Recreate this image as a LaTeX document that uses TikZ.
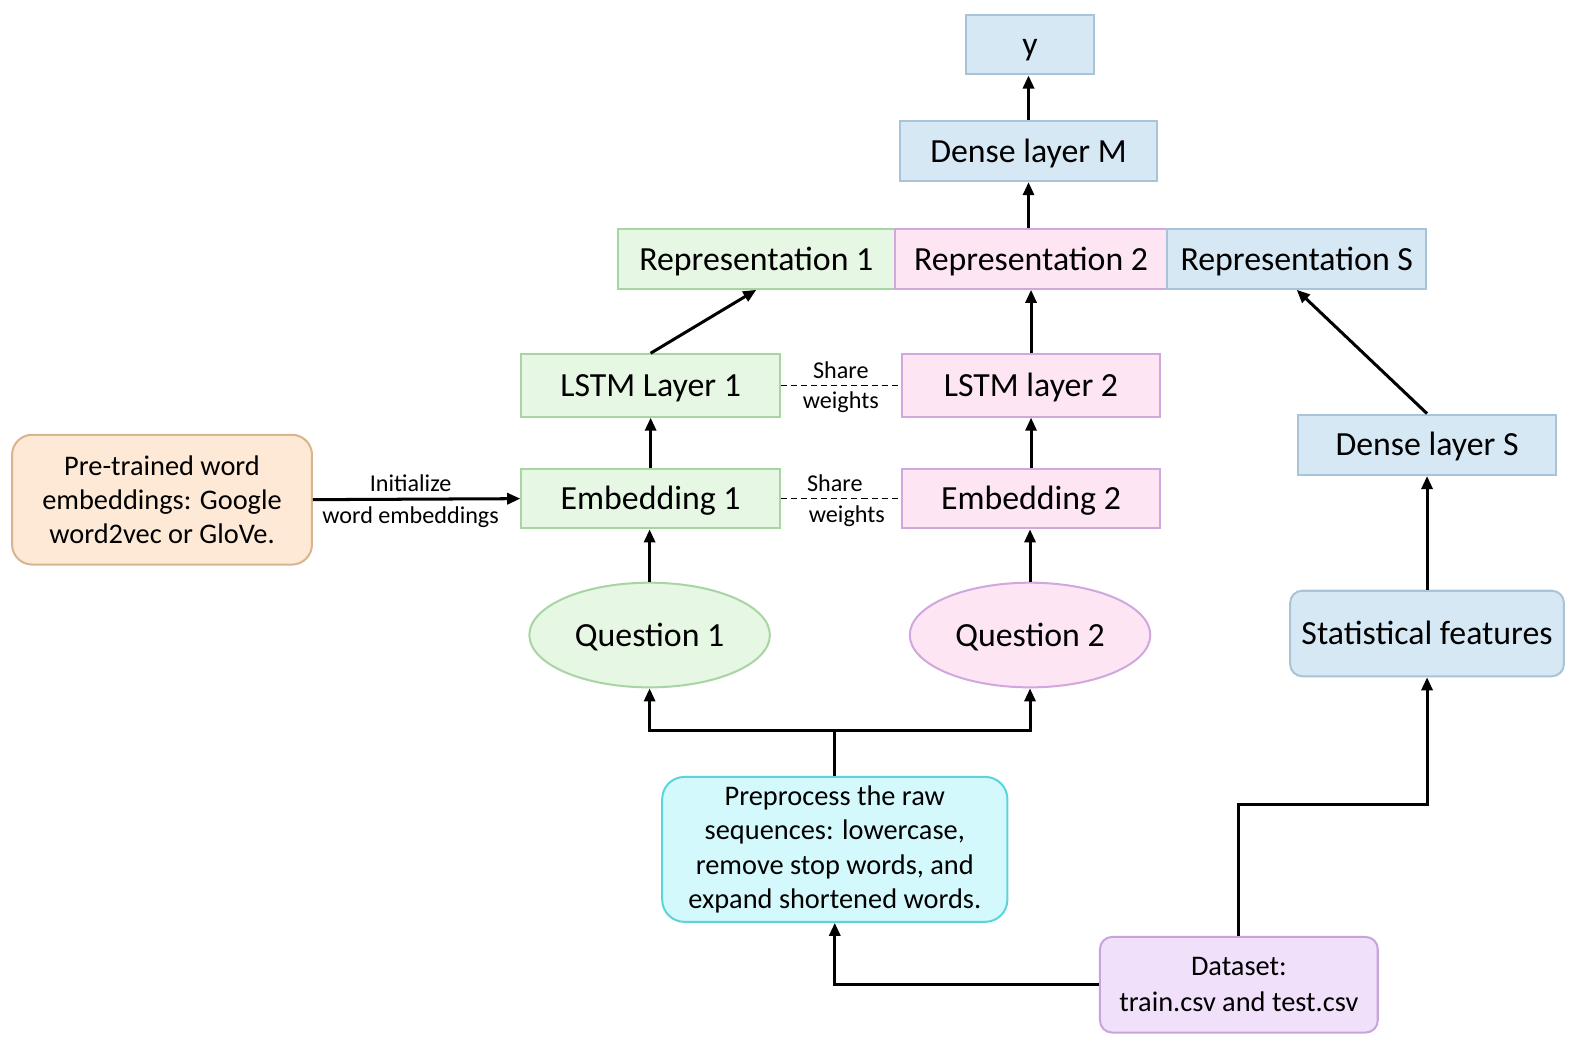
\documentclass[tikz,border=0pt]{standalone}
\usepackage{fontspec}
\setmainfont{Carlito}
\usetikzlibrary{shapes.geometric,arrows.meta}
\definecolor{gfill}{HTML}{E6F7E3}
\definecolor{gdraw}{HTML}{A9D4A3}
\definecolor{pfill}{HTML}{FDE5F4}
\definecolor{pdraw}{HTML}{D0A8DE}
\definecolor{bfill}{HTML}{D7E8F5}
\definecolor{bdraw}{HTML}{A9C4D6}
\definecolor{ofill}{HTML}{FDE9D6}
\definecolor{odraw}{HTML}{D9B48E}
\definecolor{cfill}{HTML}{D4F9FC}
\definecolor{cdraw}{HTML}{5AD5DA}
\definecolor{vfill}{HTML}{F0E0FA}
\definecolor{vdraw}{HTML}{C9A3DB}
\tikzset{
  box/.style={draw, line width=1pt, inner sep=0pt, align=center, font=\fontsize{16.8}{20}\selectfont},
  one/.style={text height=12pt, text depth=1pt},
  gbox/.style={box, one, fill=gfill, draw=gdraw},
  pbox/.style={box, one, fill=pfill, draw=pdraw},
  bbox/.style={box, one, fill=bfill, draw=bdraw},
  smalltxt/.style={font=\fontsize{14.1}{17}\selectfont},
  arr/.style={line width=1.5pt, -{Triangle[length=6.5pt,width=5.5pt]}},
  plain/.style={line width=1.5pt},
  dash line/.style={line width=0.7pt, dash pattern=on 3pt off 2pt},
  lbl/.style={font=\fontsize{12}{14}\selectfont, inner sep=1pt}
}
\begin{document}
\begin{tikzpicture}[x=0.5pt,y=-0.5pt]
\useasboundingbox (0,0) rectangle (1568,1043);
% top
\node[bbox, minimum width=63.5pt, minimum height=29.5pt] (y) at (1023.5,44.5) {y};
\node[bbox, minimum width=128pt, minimum height=30pt] (DM) at (1022,150) {Dense layer M};
% representations
\node[gbox, minimum width=137.5pt, minimum height=29.5pt] (R1) at (751.5,257.5) {Representation 1};
\node[pbox, minimum width=135.5pt, minimum height=29.5pt] (R2) at (1024.5,257.5) {Representation 2};
\node[bbox, minimum width=128.5pt, minimum height=29.5pt] (RS) at (1288.5,257.5) {Representation S};
% LSTM
\node[gbox, minimum width=128.5pt, minimum height=31pt] (L1) at (646.5,383) {LSTM Layer 1};
\node[pbox, minimum width=128.5pt, minimum height=31pt] (L2) at (1024.5,383) {LSTM layer 2};
% Embeddings
\node[gbox, minimum width=128.5pt, minimum height=29.5pt] (E1) at (646.5,495.5) {Embedding 1};
\node[pbox, minimum width=128.5pt, minimum height=29.5pt] (E2) at (1024.5,495.5) {Embedding 2};
% Questions
\node[gbox, ellipse, minimum width=119.5pt, minimum height=52pt] (Q1) at (645.5,631) {Question 1};
\node[pbox, ellipse, minimum width=119.5pt, minimum height=52pt] (Q2) at (1023.5,631) {Question 2};
% pretrained
\node[box, smalltxt, fill=ofill, draw=odraw, rounded corners=10pt, minimum width=149pt, minimum height=64.5pt] (PT) at (161,496.5) {Pre-trained word\\embeddings: Google\\word2vec or GloVe.};
% right column
\node[bbox, minimum width=128pt, minimum height=30pt] (DS) at (1418,442) {Dense layer S};
\node[bbox, rounded corners=6pt, minimum width=136pt, minimum height=42.5pt] (SF) at (1418,629.5) {Statistical features};
% preprocess & dataset
\node[box, smalltxt, fill=cfill, draw=cdraw, rounded corners=11pt, minimum width=171.5pt, minimum height=72pt] (PP) at (829.5,844) {Preprocess the raw\\sequences: lowercase,\\remove stop words, and\\expand shortened words.};
\node[box, smalltxt, fill=vfill, draw=vdraw, rounded corners=6pt, minimum width=138pt, minimum height=47.5pt, font=\fontsize{14.1}{18}\selectfont] (DT) at (1231,978.5) {Dataset:\\train.csv and test.csv};
% connectors
\draw[arr] (DM.north) -- (DM.north |- y.south);
\draw[arr] (R2.north -| DM.south) -- (DM.south);
\draw[arr] (L1.north) -- (R1.south);
\draw[arr] (L2.north) -- (L2.north |- R2.south);
\draw[arr] (DS.north) -- (RS.south);
\draw[arr] (E1.north) -- (L1.south);
\draw[arr] (E2.north) -- (L2.south);
\draw[arr] (Q1.north) -- (Q1.north |- E1.south);
\draw[arr] (Q2.north) -- (Q2.north |- E2.south);
\draw[arr] (SF.north) -- (DS.south);
\draw[arr] (PT.east) -- (E1.west)
  node[lbl, midway, above=2pt, xshift=-3pt] (initlbl) {Initialize}
  node[lbl, midway, below=2pt, xshift=-3pt] (wordlbl) {word embeddings};
\draw[dash line] (L1.east) -- (L2.west)
  node[lbl, midway, above=2pt] (sw1a) {Share}
  node[lbl, midway, below=2pt] (sw1b) {weights};
\draw[dash line] (E1.east) -- (E2.west)
  node[lbl, midway, above=2pt, xshift=-3pt] (sw2a) {Share}
  node[lbl, midway, below=2pt, xshift=3pt] (sw2b) {weights};
\path (PP.north) ++(0,-45) coordinate (j);
\draw[plain] (PP.north) -- (j);
\draw[arr] (j) -| (Q1.south);
\draw[arr] (j) -| (Q2.south);
\draw[arr] (DT.west) -| (PP.south);
\path (DT.north) ++(0,-131) coordinate (k);
\draw[arr] (DT.north) -- (k) -| (SF.south);
\end{tikzpicture}
\end{document}
